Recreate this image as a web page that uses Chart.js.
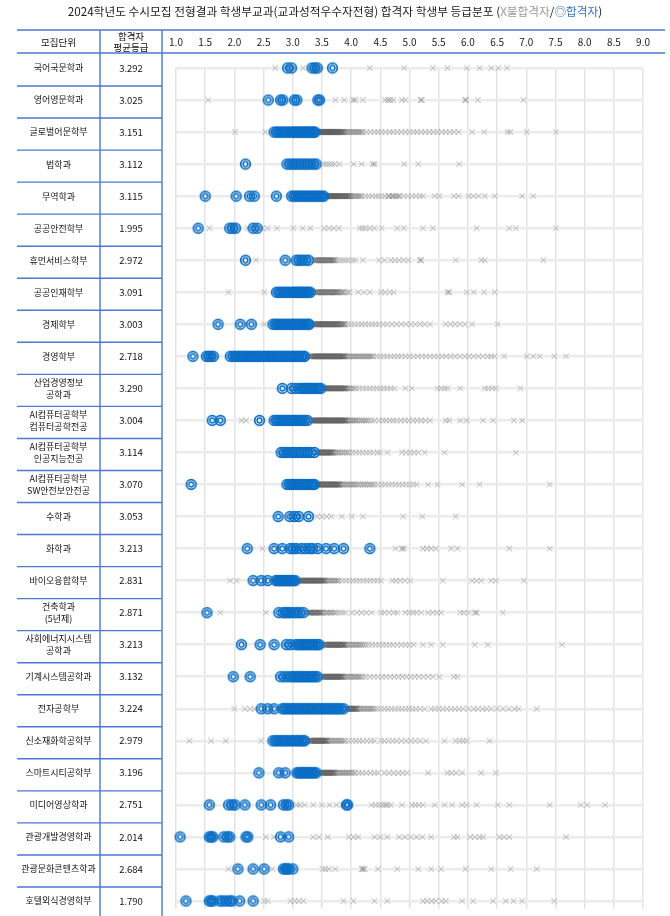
<!DOCTYPE html>
<html><head><meta charset="utf-8">
<script src="https://cdn.jsdelivr.net/npm/chart.js@4/dist/chart.umd.min.js"></script>
<style>html,body{margin:0;padding:0;background:#fff;}canvas{display:block;}</style>
</head><body>
<canvas id="c" width="670" height="916"></canvas>
<script>
const titleMain = '2024학년도 수시모집 전형결과 학생부교과(교과성적우수자전형) 합격자 학생부 등급분포 (';
const legendRejected = 'X불합격자';
const legendAccepted = '◎합격자';
const headerName = '모집단위';
const headerAvg = ['합격자', '평균등급'];
const gradeTicks = ['1.0','1.5','2.0','2.5','3.0','3.5','4.0','4.5','5.0','5.5','6.0','6.5','7.0','7.5','8.0','8.5','9.0'];
const departments = ['국어국문학과','영어영문학과','글로벌어문학부','법학과','무역학과','공공안전학부','휴먼서비스학부','공공인재학부','경제학부','경영학부',
  ['산업경영정보','공학과'],['AI컴퓨터공학부','컴퓨터공학전공'],['AI컴퓨터공학부','인공지능전공'],['AI컴퓨터공학부','SW안전보안전공'],
  '수학과','화학과','바이오융합학부',['건축학과','(5년제)'],['사회에너지시스템','공학과'],'기계시스템공학과','전자공학부','신소재화학공학부',
  '스마트시티공학부','미디어영상학과','관광개발경영학과','관광문화콘텐츠학과','호텔외식경영학부'];
const avgGrades = ['3.292','3.025','3.151','3.112','3.115','1.995','2.972','3.091','3.003','2.718','3.290','3.004','3.114','3.070',
  '3.053','3.213','2.831','2.871','3.213','3.132','3.224','2.979','3.196','2.751','2.014','2.684','1.790'];

const acceptedGrades = [
 [2.91,2.98,3.33,3.38,3.42,3.68],
 [2.58,2.79,2.83,3.03,3.07,3.43,3.46],
 [2.68,2.72,2.76,2.80,2.84,2.88,2.92,2.96,3.00,3.03,3.06,3.09,3.12,3.15,3.18,3.21,3.24,3.27,3.30,3.33,3.36,3.38],
 [2.19,2.90,2.95,3.00,3.05,3.10,3.15,3.20,3.25,3.30,3.36,3.40],
 [1.50,2.03,2.26,2.34,2.72,2.98,3.02,3.06,3.10,3.14,3.18,3.22,3.26,3.30,3.34,3.38,3.42,3.46,3.50,3.53],
 [1.38,1.92,1.97,2.02,2.32,2.39],
 [2.19,2.87,3.06,3.11,3.16,3.22,3.27],
 [2.72,2.76,2.80,2.84,2.88,2.92,2.96,3.00,3.03,3.06,3.09,3.12,3.15,3.18,3.21,3.24,3.27,3.30],
 [1.72,2.10,2.29,2.66,2.70,2.74,2.78,2.82,2.86,2.90,2.94,2.98,3.02,3.06,3.10,3.14,3.18,3.22,3.26,3.28],
 [1.29,1.52,1.56,1.60,1.64,1.93,1.98,2.02,2.06,2.10,2.14,2.18,2.22,2.26,2.30,2.34,2.38,2.42,2.46,2.50,2.54,2.58,2.62,2.66,2.70,2.74,2.78,2.82,2.86,2.90,2.94,2.98,3.02,3.06,3.10,3.14,3.18,3.20],
 [2.82,2.98,3.05,3.12,3.16,3.20,3.24,3.28,3.32,3.36,3.40,3.44,3.48],
 [1.62,1.76,2.43,2.68,2.72,2.76,2.80,2.84,2.88,2.92,2.96,3.00,3.04,3.08,3.12,3.16,3.20,3.25],
 [2.80,2.85,2.90,2.95,3.00,3.05,3.10,3.15,3.20,3.25,3.30,3.37],
 [1.26,2.90,2.94,2.98,3.02,3.06,3.10,3.14,3.18,3.22,3.26,3.30,3.34,3.37],
 [2.75,2.95,3.03,3.10,3.27],
 [2.22,2.68,2.82,2.96,3.01,3.06,3.15,3.22,3.29,3.34,3.43,3.57,3.71,3.87,4.32],
 [2.32,2.46,2.57,2.71,2.74,2.77,2.80,2.83,2.86,2.89,2.92,2.95,2.98,3.01,3.04],
 [1.53,2.76,2.84,2.88,2.92,2.96,3.02,3.07,3.12,3.18],
 [2.12,2.44,2.68,2.89,2.96,3.05,3.10,3.14,3.18,3.22,3.26,3.30,3.34,3.38,3.42,3.45],
 [1.98,2.27,2.79,2.86,2.92,2.98,3.02,3.06,3.10,3.14,3.18,3.22,3.26,3.30,3.34,3.38,3.42],
 [2.46,2.57,2.68,2.82,2.86,2.90,2.94,2.98,3.02,3.06,3.10,3.14,3.18,3.22,3.26,3.30,3.34,3.38,3.42,3.46,3.50,3.54,3.58,3.62,3.66,3.70,3.74,3.78,3.82,3.87],
 [2.66,2.70,2.74,2.78,2.82,2.86,2.90,2.94,2.98,3.02,3.06,3.10,3.14,3.18,3.20],
 [2.42,2.76,2.87,3.07,3.10,3.13,3.16,3.19,3.22,3.25,3.28,3.31,3.34,3.37,3.40],
 [1.57,1.90,1.96,2.01,2.18,2.46,2.62,2.84,2.89,2.93,3.92,3.94],
 [1.07,1.57,1.60,1.63,1.82,1.88,1.92,2.20,2.23,2.79,2.93],
 [2.06,2.32,2.51,2.84,2.87,2.90,2.93,3.00],
 [1.17,1.57,1.60,1.63,1.75,1.80,1.86,1.92,1.96,2.09,2.32]
];

const rejectedGrades = [
 [2.70,3.18,4.32,4.91,5.40,5.65,5.98,6.20,6.40,6.52,6.67],
 [1.55,3.73,3.88,4.03,4.07,4.20,4.58,4.63,4.67,4.72,4.87,4.93,5.19,5.21,5.95,5.97,6.17,6.95],
 [2.01,2.53,3.44,3.455,3.47,3.48,3.49,3.505,3.52,3.53,3.54,3.555,3.57,3.58,3.59,3.605,3.62,3.63,3.64,3.655,3.67,3.68,3.69,3.705,3.72,3.73,3.74,3.755,3.77,3.785,3.80,3.815,3.83,3.845,3.86,3.88,3.90,3.93,3.96,3.99,4.02,4.05,4.08,4.11,4.14,4.17,4.20,4.26,4.33,4.40,4.46,4.52,4.59,4.66,4.72,4.79,4.86,4.93,5.00,5.07,5.13,5.20,5.27,5.34,5.41,5.48,5.55,5.62,5.69,5.76,5.84,6.07,6.28,6.68,6.73,7.01,7.51],
 [3.52,3.57,3.62,3.67,3.72,3.80,4.04,4.18,4.37,4.40,4.91,5.15,5.85],
 [3.56,3.57,3.58,3.595,3.61,3.62,3.63,3.645,3.66,3.67,3.68,3.695,3.71,3.72,3.73,3.745,3.76,3.77,3.78,3.795,3.81,3.825,3.84,3.855,3.87,3.885,3.90,3.915,3.93,3.945,3.96,3.98,4.00,4.03,4.06,4.09,4.12,4.15,4.18,4.24,4.30,4.36,4.42,4.47,4.52,4.58,4.64,4.65,4.70,4.72,4.76,4.80,4.83,4.90,4.97,5.04,5.11,5.18,5.23,5.43,5.51,5.76,5.84,6.01,6.09,6.18,6.29,6.46,6.93,7.12],
 [1.57,2.23,2.48,2.57,2.73,3.01,3.17,3.30,3.54,3.62,3.70,3.79,4.15,4.20,4.25,4.32,4.40,4.52,4.79,4.90,5.23,5.40,6.15,6.71,6.82,7.51],
 [2.37,3.36,3.38,3.40,3.42,3.44,3.46,3.48,3.50,3.52,3.54,3.56,3.58,3.60,3.62,3.64,3.66,3.68,3.70,3.72,3.76,3.81,3.86,3.91,3.96,4.02,4.07,4.20,4.48,4.57,4.68,4.75,4.82,4.90,4.98,5.18,5.20,5.79,6.23,6.29,7.29],
 [1.90,2.51,3.38,3.40,3.42,3.44,3.46,3.48,3.50,3.52,3.54,3.56,3.58,3.60,3.62,3.64,3.66,3.68,3.70,3.72,3.74,3.76,3.78,3.81,3.83,3.86,3.88,3.93,3.97,4.12,4.22,4.32,4.51,4.58,4.66,4.73,5.65,5.68,5.98,6.10,6.28,6.46],
 [2.51,3.36,3.375,3.39,3.405,3.42,3.435,3.45,3.465,3.48,3.495,3.51,3.525,3.54,3.555,3.57,3.585,3.60,3.615,3.63,3.645,3.66,3.675,3.69,3.705,3.72,3.735,3.75,3.765,3.78,3.80,3.82,3.84,3.86,3.88,3.90,3.95,4.00,4.06,4.12,4.18,4.24,4.30,4.36,4.42,4.48,4.55,4.62,4.70,4.78,4.86,4.94,5.02,5.10,5.18,5.26,5.35,5.62,5.70,5.78,5.86,5.95,6.07,6.51],
 [3.30,3.315,3.33,3.345,3.36,3.375,3.39,3.405,3.42,3.435,3.45,3.465,3.48,3.495,3.51,3.525,3.54,3.555,3.57,3.585,3.60,3.615,3.63,3.645,3.66,3.675,3.69,3.705,3.72,3.735,3.75,3.765,3.78,3.795,3.81,3.825,3.84,3.855,3.87,3.885,3.90,3.93,3.96,3.99,4.02,4.05,4.08,4.11,4.14,4.17,4.20,4.23,4.26,4.29,4.32,4.35,4.38,4.44,4.50,4.56,4.62,4.68,4.74,4.80,4.86,4.93,5.00,5.07,5.14,5.21,5.28,5.35,5.42,5.49,5.56,5.63,5.70,5.78,5.86,5.95,6.02,6.10,6.18,6.26,6.34,6.40,6.46,6.62,7.01,7.12,7.23,7.48,7.68],
 [3.52,3.535,3.55,3.565,3.58,3.595,3.61,3.625,3.64,3.655,3.67,3.685,3.70,3.715,3.73,3.745,3.76,3.775,3.79,3.805,3.82,3.835,3.85,3.865,3.88,3.895,3.91,3.94,3.97,4.00,4.04,4.08,4.14,4.20,4.26,4.32,4.38,4.44,4.50,4.56,4.62,4.68,4.74,4.93,5.04,5.48,5.54,5.60,5.65,5.87,6.29,6.35,6.42,6.48,6.90],
 [2.12,2.20,3.32,3.335,3.35,3.365,3.38,3.395,3.41,3.425,3.44,3.455,3.47,3.485,3.50,3.515,3.53,3.545,3.56,3.575,3.59,3.605,3.62,3.635,3.65,3.665,3.68,3.695,3.71,3.725,3.74,3.755,3.77,3.785,3.80,3.815,3.83,3.845,3.86,3.875,3.89,3.905,3.92,3.95,3.98,4.01,4.04,4.07,4.10,4.14,4.18,4.22,4.26,4.30,4.35,4.40,4.48,4.54,4.60,4.66,4.72,4.78,4.85,4.92,4.99,5.06,5.13,5.20,5.27,5.35,5.62,5.68,5.87,5.98,6.26,6.43,6.79,6.93],
 [3.42,3.435,3.45,3.465,3.48,3.495,3.51,3.525,3.54,3.555,3.57,3.585,3.60,3.615,3.63,3.645,3.66,3.675,3.69,3.72,3.75,3.78,3.81,3.85,3.89,3.93,3.97,4.02,4.08,4.14,4.20,4.26,4.32,4.38,4.45,4.50,4.62,4.87,4.94,5.01,5.08,5.15,5.26,5.60,6.82],
 [3.42,3.435,3.45,3.465,3.48,3.495,3.51,3.525,3.54,3.555,3.57,3.585,3.60,3.615,3.63,3.645,3.66,3.675,3.69,3.705,3.72,3.735,3.75,3.765,3.78,3.795,3.81,3.84,3.87,3.90,3.93,3.96,3.99,4.02,4.05,4.08,4.12,4.16,4.20,4.24,4.28,4.32,4.36,4.40,4.46,4.52,4.58,4.64,4.70,4.76,4.82,4.88,4.94,5.00,5.06,5.12,5.32,5.48,5.90,6.20,7.40],
 [3.42,3.50,3.58,3.66,3.84,4.01,4.20,4.89,5.22,5.79],
 [2.48,4.76,4.87,4.90,5.23,5.30,5.37,5.45,5.71,5.82,6.71,7.40],
 [1.93,2.04,3.10,3.115,3.13,3.145,3.16,3.175,3.19,3.205,3.22,3.235,3.25,3.265,3.28,3.295,3.31,3.325,3.34,3.355,3.37,3.385,3.40,3.415,3.43,3.445,3.46,3.475,3.49,3.505,3.52,3.535,3.55,3.58,3.61,3.64,3.67,3.70,3.73,3.76,3.79,3.85,3.91,3.97,4.03,4.09,4.15,4.21,4.27,4.33,4.39,4.45,4.51,4.71,4.77,4.84,4.92,5.01,5.57,6.07,6.15,6.23,6.40,6.48,6.96],
 [1.76,2.54,3.26,3.275,3.29,3.305,3.32,3.34,3.36,3.38,3.39,3.41,3.43,3.45,3.46,3.48,3.50,3.53,3.57,3.60,3.64,3.67,3.71,3.75,3.80,3.85,3.90,4.01,4.10,4.18,4.26,4.35,4.51,4.57,4.65,4.73,4.79,4.93,5.00,5.06,5.12,5.20,5.32,5.40,5.47,5.54,5.87,5.93,6.01,6.12,6.15,6.60],
 [3.54,3.555,3.57,3.585,3.60,3.615,3.63,3.645,3.66,3.675,3.69,3.705,3.72,3.735,3.75,3.765,3.78,3.795,3.81,3.825,3.84,3.855,3.87,3.885,3.90,3.93,3.96,3.99,4.02,4.05,4.08,4.11,4.14,4.17,4.21,4.25,4.30,4.36,4.42,4.48,4.54,4.60,4.66,4.72,4.79,4.86,4.93,5.00,5.07,5.23,5.37,5.57,6.12,6.34,7.61],
 [3.50,3.515,3.53,3.545,3.56,3.575,3.59,3.605,3.62,3.635,3.65,3.665,3.68,3.695,3.71,3.725,3.74,3.755,3.77,3.785,3.80,3.815,3.83,3.845,3.86,3.89,3.92,3.95,3.98,4.01,4.04,4.07,4.10,4.13,4.16,4.20,4.25,4.32,4.39,4.46,4.53,4.60,4.67,4.74,4.81,4.88,4.95,5.02,5.09,5.16,5.24,5.32,5.40,5.51,5.76,5.82],
 [2.00,2.18,2.27,2.35,3.92,3.935,3.95,3.965,3.98,3.995,4.01,4.025,4.04,4.055,4.07,4.085,4.10,4.13,4.16,4.19,4.22,4.25,4.28,4.31,4.34,4.37,4.40,4.45,4.51,4.57,4.63,4.69,4.75,4.81,4.87,4.93,4.99,5.05,5.11,5.18,5.26,5.37,5.43,5.50,5.57,5.64,5.71,5.78,5.85,5.92,6.01,6.10,6.17,6.25,6.32,6.40,6.50,6.60,6.70,6.80,6.87,7.18],
 [1.23,1.60,1.85,2.46,3.29,3.305,3.32,3.335,3.35,3.365,3.38,3.395,3.41,3.425,3.44,3.455,3.47,3.485,3.50,3.515,3.53,3.545,3.56,3.575,3.59,3.62,3.65,3.68,3.71,3.74,3.77,3.80,3.83,3.86,3.90,3.96,4.02,4.08,4.14,4.20,4.27,4.34,4.40,4.51,4.57,4.64,4.71,4.78,4.86,4.94,5.02,5.10,5.18,5.28,5.60,5.79,5.86,5.92,5.98,6.37],
 [3.48,3.495,3.51,3.525,3.54,3.555,3.57,3.585,3.60,3.615,3.63,3.645,3.66,3.675,3.69,3.705,3.72,3.75,3.78,3.81,3.84,3.87,3.90,3.93,3.96,3.99,4.03,4.07,4.13,4.19,4.26,4.33,4.40,4.46,4.57,4.65,4.73,4.81,4.88,4.96,5.32,5.65,5.72,5.80,5.90,6.23,6.48],
 [3.07,3.12,3.20,3.35,3.50,3.63,3.75,3.85,4.35,4.42,4.48,4.53,4.58,4.62,4.68,4.87,5.04,5.10,5.16,5.23,5.43,5.60,5.73,5.90,5.98,6.15,6.51,6.71,7.40,7.93,8.04,8.35],
 [2.54,2.68,3.35,3.45,3.60,3.96,4.04,4.12,4.40,4.50,4.62,4.82,4.92,5.02,5.12,5.22,5.37,5.76,5.82,6.04,6.12,6.20,6.26,6.54,6.62,6.71,7.68],
 [1.90,2.65,3.51,3.56,3.62,3.73,4.18,4.20,4.23,4.46,4.79,5.15,5.37,5.54,5.96,6.40,6.73,7.18],
 [2.51,2.57,2.96,3.03,3.10,3.18,3.87,4.04,4.40,4.62,5.23,5.30,5.38,5.45,5.55,5.62,5.90,6.09,6.43,6.65,6.78,6.93,7.48]
];

const FONT = "'Noto Sans CJK KR', 'Noto Sans', sans-serif";
const accPts = [], rejPts = [];
acceptedGrades.forEach((arr, i) => arr.forEach(v => accPts.push({x: v, y: i + 1})));
rejectedGrades.forEach((arr, i) => arr.forEach(v => rejPts.push({x: v, y: i + 1})));
// overlapping crosses darken where many applicants share nearly the same grade
const rejOverlap = rejPts.map(p => rejPts.filter(q => q.y === p.y && Math.abs(q.x - p.x) < 0.045).length - 1);
const rejColor = (c) => {
  const n = rejOverlap[c.dataIndex] ?? 0;
  return 'rgba(95,95,95,' + Math.min(0.3 + 0.06 * n, 0.72).toFixed(3) + ')';
};

// double-ring marker (◎)
const ring = document.createElement('canvas');
ring.width = 13; ring.height = 13;
(function(){
  const g = ring.getContext('2d');
  g.strokeStyle = '#0a6ec6';
  g.lineWidth = 1.7; g.beginPath(); g.arc(6.5, 6.5, 4.8, 0, Math.PI * 2); g.stroke();
  g.lineWidth = 1.5; g.beginPath(); g.arc(6.5, 6.5, 2.4, 0, Math.PI * 2); g.stroke();
})();

const mctx = document.createElement('canvas').getContext('2d');
function widest(labels, font) {
  mctx.font = font; let w = 0;
  labels.forEach(l => (Array.isArray(l) ? l : [l]).forEach(s => { w = Math.max(w, mctx.measureText(s).width); }));
  return w;
}
const nameFontSize = 9, avgFontSize = 9.5;
const nameW = widest(departments, nameFontSize + 'px ' + FONT);
const avgW = widest(avgGrades, avgFontSize + 'px ' + FONT);
const NAME_BOX = 83, AVG_BOX = 76;
const namePad = 41.5 - nameW / 2;
const avgPad = 45 - avgW / 2;

function fixVertical(s, w) { s.width = w; s.paddingTop = 0; s.paddingBottom = 0; }

const tablePlugin = {
  id: 'tablePlugin',
  afterDraw(chart) {
    const ctx = chart.ctx;
    const ys = chart.scales.y;
    const yn = chart.scales.yName;
    const left = yn.left, c1 = yn.right, c2 = ys.right - 14, right = 665;
    ctx.save();
    ctx.strokeStyle = '#4a78d6';
    ctx.lineWidth = 1.4;
    ctx.beginPath();
    ctx.moveTo(left, 30); ctx.lineTo(right, 30);
    ctx.moveTo(left, 53); ctx.lineTo(right, 53);
    for (let k = 1; k < departments.length; k++) {
      const y = (ys.getPixelForValue(k) + ys.getPixelForValue(k + 1)) / 2 + 2;
      ctx.moveTo(left, y); ctx.lineTo(c2, y);
    }
    ctx.moveTo(c1, 30); ctx.lineTo(c1, 916);
    ctx.moveTo(c2, 30); ctx.lineTo(c2, 916);
    ctx.stroke();
    ctx.fillStyle = '#111';
    ctx.textAlign = 'center'; ctx.textBaseline = 'middle';
    ctx.font = '9.5px ' + FONT;
    ctx.fillText(headerName, (left + c1) / 2, 42);
    ctx.fillText(headerAvg[0], (c1 + c2) / 2, 36);
    ctx.fillText(headerAvg[1], (c1 + c2) / 2, 47.5);
    ctx.font = '11.7px ' + FONT;
    const segs = [[titleMain, '#1a1a1a'], [legendRejected, '#9a9a9a'], ['/', '#1a1a1a'], [legendAccepted, '#2f72cc'], [')', '#1a1a1a']];
    let total = 0; segs.forEach(s => total += ctx.measureText(s[0]).width);
    let x = 335 - total / 2;
    ctx.textAlign = 'left';
    segs.forEach(s => { ctx.fillStyle = s[1]; ctx.fillText(s[0], x, 12); x += ctx.measureText(s[0]).width; });
    ctx.restore();
  }
};

new Chart(document.getElementById('c'), {
  type: 'scatter',
  data: {
    datasets: [
      { label: '합격자', data: accPts, pointStyle: ring, pointRadius: 6, pointHoverRadius: 6, clip: false, order: 0 },
      { label: '불합격자', data: rejPts, pointStyle: 'crossRot', pointRadius: 4, pointHoverRadius: 4,
        borderColor: 'rgba(95,95,95,0.35)', pointBorderColor: rejColor, pointBorderWidth: 1.1, borderWidth: 1.1,
        backgroundColor: 'transparent', clip: false, order: 1 }
    ]
  },
  options: {
    responsive: false, animation: false, events: [],
    layout: { padding: { left: 17, right: 13, top: 0, bottom: 6 } },
    plugins: { legend: { display: false }, tooltip: { enabled: false }, title: { display: false } },
    scales: {
      x: {
        type: 'linear', position: 'top', min: 1, max: 9,
        ticks: { stepSize: 0.5, autoSkip: false, maxRotation: 0, maxTicksLimit: 100, padding: 20, color: '#1a1a1a',
          font: { size: 10, family: FONT }, callback: (v, i) => gradeTicks[i] },
        grid: { color: '#e3e3e3', lineWidth: 1.5, drawTicks: false },
        border: { display: false },
        afterFit(s) { s.height = 68; }
      },
      yName: {
        type: 'linear', position: 'left', weight: 2, reverse: true, min: 1, max: 27.25,
        ticks: { stepSize: 1, autoSkip: false, includeBounds: false, maxTicksLimit: 100, crossAlign: 'center', padding: namePad,
          color: '#111', font: { size: nameFontSize, family: FONT, lineHeight: 1.4 },
          callback: v => departments[Math.round(v) - 1] ?? '' },
        grid: { display: false, drawTicks: false },
        border: { display: false },
        afterFit(s) { fixVertical(s, NAME_BOX); }
      },
      y: {
        type: 'linear', position: 'left', weight: 1, reverse: true, min: 1, max: 27.25,
        ticks: { stepSize: 1, autoSkip: false, includeBounds: false, maxTicksLimit: 100, crossAlign: 'center', padding: avgPad,
          color: '#111', font: { size: avgFontSize, family: FONT },
          callback: v => avgGrades[Math.round(v) - 1] ?? '' },
        grid: { color: '#ebebeb', lineWidth: 2.5, drawTicks: false },
        border: { display: false },
        afterFit(s) { fixVertical(s, AVG_BOX); }
      }
    }
  },
  plugins: [tablePlugin]
});
</script>
</body></html>
